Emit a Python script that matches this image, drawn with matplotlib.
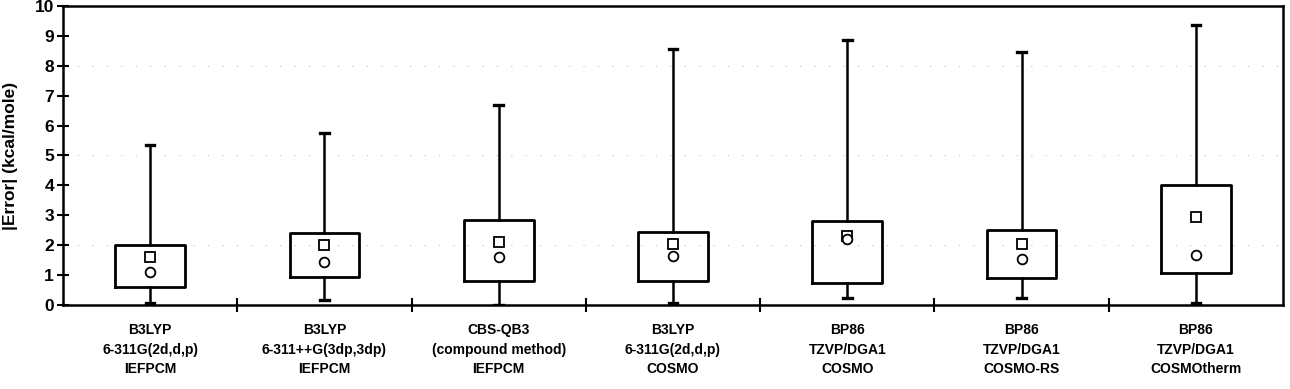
import matplotlib.pyplot as plt

plt.rcParams['font.family'] = ['Liberation Sans', 'DejaVu Sans']

labels = ["B3LYP\n6-311G(2d,d,p)\nIEFPCM",
          "B3LYP\n6-311++G(3dp,3dp)\nIEFPCM",
          "CBS-QB3\n(compound method)\nIEFPCM",
          "B3LYP\n6-311G(2d,d,p)\nCOSMO",
          "BP86\nTZVP/DGA1\nCOSMO",
          "BP86\nTZVP/DGA1\nCOSMO-RS",
          "BP86\nTZVP/DGA1\nCOSMOtherm"]
whis_lo = [0.05, 0.15, 0.0, 0.05, 0.25, 0.23, 0.05]
q1 = [0.6, 0.93, 0.8, 0.8, 0.75, 0.9, 1.07]
q3 = [2.0, 2.4, 2.85, 2.45, 2.8, 2.5, 4.0]
whis_hi = [5.35, 5.75, 6.7, 8.55, 8.85, 8.45, 9.35]
means = [1.6, 2.0, 2.1, 2.05, 2.3, 2.03, 2.95]
medians = [1.1, 1.45, 1.6, 1.65, 2.2, 1.53, 1.67]

fig = plt.figure(figsize=(12.9, 3.89), dpi=100)
ax = fig.add_axes([0.0488, 0.216, 0.9458, 0.7686])

pos = list(range(1, len(labels) + 1))

# faint dotted guide lines
for g in [2, 5, 8]:
    ax.axhline(g, color='#c0c0c0', linestyle=(0, (1, 12)), linewidth=0.8, zorder=0)

stats = []
for i in range(len(labels)):
    stats.append(dict(whislo=whis_lo[i], q1=q1[i], med=medians[i], q3=q3[i],
                      whishi=whis_hi[i], fliers=[]))

ax.bxp(stats, positions=pos, widths=0.4, capwidths=0.05, showfliers=False,
       boxprops=dict(color='black', linewidth=2.0),
       whiskerprops=dict(color='black', linewidth=1.8),
       capprops=dict(color='black', linewidth=2.4),
       medianprops=dict(linestyle='none'))

ax.plot(pos, means, linestyle='none', marker='s', markersize=7,
        markerfacecolor='white', markeredgecolor='black', markeredgewidth=1.3, zorder=5)
ax.plot(pos, medians, linestyle='none', marker='o', markersize=7,
        markerfacecolor='white', markeredgecolor='black', markeredgewidth=1.3, zorder=5)

ax.set_xlim(0.5, len(labels) + 0.5)
ax.set_ylim(0, 10)
ax.set_yticks(range(0, 11))
ax.set_yticklabels([str(v) for v in range(0, 11)], fontsize=12.5, fontweight='bold')
ax.tick_params(axis='y', direction='inout', length=9, width=1.5, pad=2)

ax.set_xticks([p + 0.5 for p in pos[:-1]])
ax.set_xticklabels([])
ax.tick_params(axis='x', which='major', direction='inout', length=10, width=1.5)
ax.set_xticks(pos, minor=True)
ax.set_xticklabels(labels, minor=True, fontsize=10, fontweight='bold', linespacing=1.5)
ax.tick_params(axis='x', which='minor', length=0, pad=13)

for s in ax.spines.values():
    s.set_linewidth(1.8)

ax.set_ylabel('|Error| (kcal/mole)', fontsize=12.5, fontweight='bold', labelpad=12)

fig.savefig('out.png', dpi=100)
